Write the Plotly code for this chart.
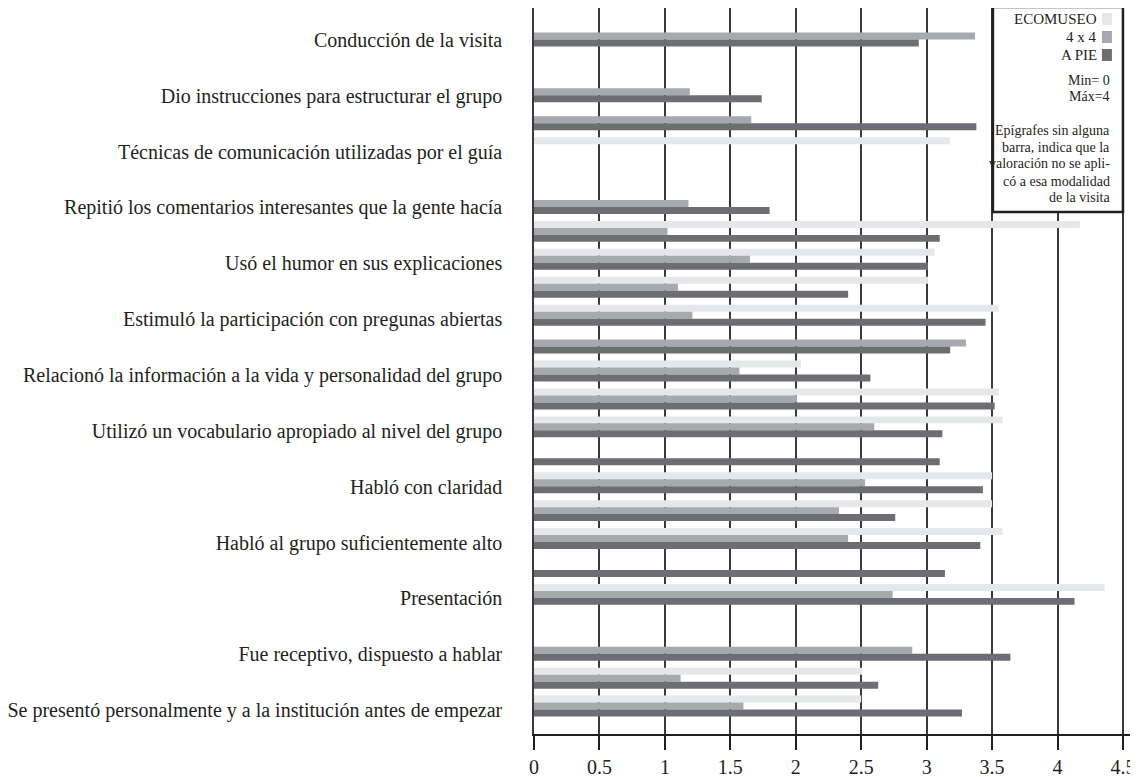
import plotly.graph_objects as go

# Rows from top to bottom (every other row is labelled in the original chart)
rows = [
    "Conducción de la visita", "fila 2",
    "Dio instrucciones para estructurar el grupo", "fila 4",
    "Técnicas de comunicación utilizadas por el guía", "fila 6",
    "Repitió los comentarios interesantes que la gente hacía", "fila 8",
    "Usó el humor en sus explicaciones", "fila 10",
    "Estimuló la participación con pregunas abiertas", "fila 12",
    "Relacionó la información a la vida y personalidad del grupo", "fila 14",
    "Utilizó un vocabulario apropiado al nivel del grupo", "fila 16",
    "Habló con claridad", "fila 18",
    "Habló al grupo suficientemente alto", "fila 20",
    "Presentación", "fila 22",
    "Fue receptivo, dispuesto a hablar", "fila 24",
    "Se presentó personalmente y a la institución antes de empezar",
]
shown_labels = rows[0::2]

ecomuseo = [None, None, None, None, 3.18, None, None, 4.17, 3.06, 3.01, 3.55, None, 2.04,
            3.55, 3.58, None, 3.50, 3.50, 3.58, None, 4.36, None, None, 2.51, 2.50]
cuatro_x_cuatro = [3.37, None, 1.19, 1.66, None, None, 1.18, 1.02, 1.65, 1.10, 1.21, 3.30, 1.57,
                   2.01, 2.60, None, 2.53, 2.33, 2.40, None, 2.74, None, 2.89, 1.12, 1.60]
a_pie = [2.94, None, 1.74, 3.38, None, None, 1.80, 3.10, 3.01, 2.40, 3.45, 3.18, 2.57,
         3.52, 3.12, 3.10, 3.43, 2.76, 3.41, 3.14, 4.13, None, 3.64, 2.63, 3.27]

series = [("ECOMUSEO", ecomuseo, "#e6e7e8"),
          ("4 x 4", cuatro_x_cuatro, "#a7a9ac"),
          ("A PIE", a_pie, "#6d6e71")]

x_ticks = [0, 0.5, 1, 1.5, 2, 2.5, 3, 3.5, 4, 4.5]
x_ticktext = ["0", "0.5", "1", "1.5", "2", "2.5", "3", "3.5", "4", "4.5"]

note_lines = ["Min= 0", "Máx=4"]
note_text = ["Epígrafes sin alguna", "barra, indica que la", "valoración no se apli-",
             "có a esa modalidad", "de la visita"]

FONT = "Liberation Serif"

fig = go.Figure()
for name, vals, col in series:
    fig.add_trace(go.Bar(y=rows, x=vals, name=name, orientation="h",
                         marker=dict(color=col, line=dict(width=0)),
                         showlegend=False))

# the page body adds an 8px margin, so the figure is sized to fit the window
fig.update_layout(
    template="none",
    width=1130, height=769,
    margin=dict(l=526, r=0, t=0, b=43, autoexpand=False),
    plot_bgcolor="white", paper_bgcolor="white",
    barmode="group", bargap=0.25, bargroupgap=0,
    font=dict(family=FONT, color="#231f20", size=20),
    showlegend=False,
)
fig.update_xaxes(
    automargin=False,
    range=[0, 4.615], tickmode="array", tickvals=x_ticks, ticktext=x_ticktext,
    showgrid=True, gridcolor="#3a3a3a", gridwidth=1.5,
    showline=True, linecolor="#231f20", linewidth=2,
    ticks="outside", ticklen=14, tickwidth=1.5, tickcolor="#231f20",
    tickfont=dict(family=FONT, size=20), zeroline=False,
)
fig.update_yaxes(
    automargin=False,
    type="category", categoryorder="array", categoryarray=rows,
    range=[len(rows), -1],
    tickmode="array", tickvals=shown_labels, ticktext=shown_labels,
    ticks="", showgrid=False, zeroline=False,
    showline=True, linecolor="#3a3a3a", linewidth=1.5,
    tickfont=dict(family=FONT, size=20), ticklabelstandoff=26,
    ticklabelshift=-4,
)

# Custom legend box (swatches on the right of the text, as in the reference)
def py(p):
    return (734 - p) / 726.0

def px(p):
    return (p - 534) / 130.9

fig.add_shape(type="rect", xref="x", yref="paper", x0=px(993), x1=4.5,
              y0=py(212), y1=py(7), fillcolor="white",
              line=dict(color="#231f20", width=2.5), layer="above")
for i, (name, vals, col) in enumerate(series):
    yc = 19 + 18 * i
    fig.add_shape(type="rect", xref="x", yref="paper", x0=px(1102), x1=px(1112),
                  y0=py(yc + 6), y1=py(yc - 6), fillcolor=col, line=dict(width=0),
                  layer="above")
    fig.add_annotation(xref="x", yref="paper", x=px(1099), y=py(yc), text=name,
                       showarrow=False, xanchor="right", yanchor="middle",
                       font=dict(family=FONT, size=15, color="#231f20"))
for i, t in enumerate(note_lines):
    fig.add_annotation(xref="x", yref="paper", x=px(1112), y=py(80 + 17 * i), text=t,
                       showarrow=False, xanchor="right", yanchor="middle",
                       font=dict(family=FONT, size=14, color="#231f20"))
for i, t in enumerate(note_text):
    fig.add_annotation(xref="x", yref="paper", x=px(1112), y=py(130 + 17 * i), text=t,
                       showarrow=False, xanchor="right", yanchor="middle",
                       font=dict(family=FONT, size=14, color="#231f20"))

fig.write_html("out.html")
